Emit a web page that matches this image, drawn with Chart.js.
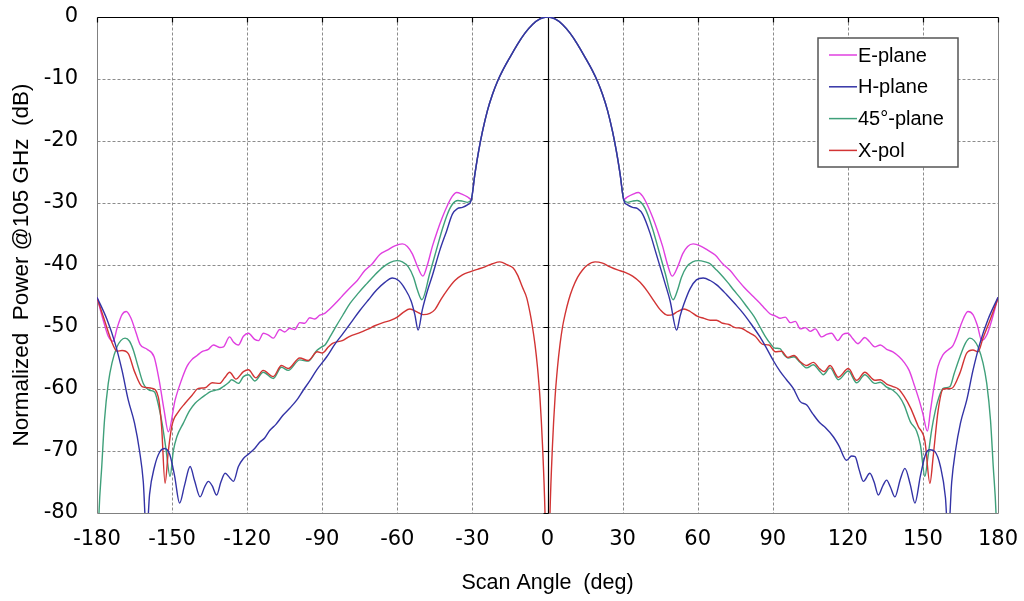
<!DOCTYPE html>
<html>
<head>
<meta charset="utf-8">
<script src="https://cdn.jsdelivr.net/npm/chart.js@4.4.1/dist/chart.umd.min.js"></script>
<style>
  body { margin: 0; background: #fff; }
  #wrap { width: 1024px; height: 601px; }
</style>
</head>
<body>
<div id="wrap"><canvas id="pattern" width="1024" height="601"></canvas></div>
<script>
// tick positions
const angleTicks = [-180, -150, -120, -90, -60, -30, 0, 30, 60, 90, 120, 150, 180];
const dbTicks = [0, -10, -20, -30, -40, -50, -60, -70, -80];

// measured patterns, [scan angle (deg), normalized power (dB)]
const ePlane = [
  [-180,-45.2],[-177.5,-48.9],[-175.5,-51.5],[-173.5,-52.3],[-172,-50.2],[-170,-48],[-168.3,-47.5],[-166.5,-48.5],
  [-164.5,-50.8],[-162.8,-52.8],[-160,-53.6],[-157.2,-54.8],[-155.2,-58.5],[-153.2,-63.4],[-151.5,-66.9],[-148.8,-61.8],
  [-146.2,-58.5],[-144,-56.3],[-142.2,-55.3],[-140,-54.6],[-138.2,-54],[-135.5,-53.6],[-133.5,-52.9],[-131,-53.3],
  [-129.5,-53.2],[-127,-51.6],[-125.5,-52.4],[-123.5,-52.9],[-121.5,-51.5],[-119.5,-51],[-117,-52],[-115.5,-52.2],
  [-113.5,-51],[-111.5,-51.3],[-109.5,-51.8],[-107,-50.4],[-105,-50.8],[-103,-50.2],[-101,-50.4],[-99,-49.3],
  [-97,-49.4],[-95,-48.5],[-93,-48.7],[-91,-48.1],[-89,-47.8],[-87,-47.1],[-85,-46.3],[-82,-45],[-79,-43.7],
  [-76,-42.5],[-73,-40.9],[-70,-39.8],[-67,-38.3],[-64,-37.6],[-61,-36.9],[-58,-36.6],[-56,-37],[-54,-38.2],
  [-52,-40.2],[-49.8,-41.8],[-48,-40],[-46,-37],[-44,-34.5],[-42,-32.3],[-40,-30.4],[-38,-28.9],[-36.3,-28.3],
  [-34,-28.6],[-32,-29],[-30.5,-29.4],[-29,-25.3],[-27.5,-21.6],[-26,-18.5],[-24,-15.1],[-22,-12.5],[-20,-10.4],
  [-18,-8.7],[-15,-6.5],[-12,-4.4],[-9,-2.6],[-6,-1.2],[-3,-0.3],[0,0],
  [3,-0.3],[6,-1.2],[9,-2.6],[12,-4.4],[15,-6.5],[18,-8.7],[20,-10.4],[22,-12.5],[24,-15.1],[26,-18.5],[27.5,-21.6],
  [29,-25.3],[30.5,-29.4],[32,-29],[34,-28.6],[36.3,-28.3],[38,-28.9],[40,-30.4],[42,-32.3],[44,-34.5],[46,-37],
  [48,-40],[49.8,-41.8],[52,-40.3],[54,-38.2],[56,-37],[58.2,-36.6],[61,-36.9],[64,-37.6],[67,-38.4],[70,-39.8],
  [73,-40.9],[76,-42.4],[79,-43.8],[82,-45],[85,-46.2],[87,-47.1],[89,-47.9],[91,-48.2],[93,-48.6],[95,-48.4],
  [97,-49.3],[99,-49.1],[101,-50.3],[103,-50.1],[105,-50.7],[107,-50.3],[109.5,-51.6],[111.5,-51.2],[113.5,-51],
  [116,-52.2],[118,-51.2],[120,-51],[122,-51.9],[124,-52.7],[126.8,-51.7],[128.5,-52.3],[130.8,-53.2],[133,-52.9],
  [135.5,-53.6],[138,-54],[140.5,-54.8],[142.5,-55.7],[144.5,-57],[146.5,-59.3],[148.5,-61.8],[150,-64],[151.8,-66.8],
  [153,-63.5],[154.5,-59.5],[156,-56.4],[158,-54.5],[160,-53.7],[162,-53],[163.5,-51.6],[165.5,-49.3],[168,-47.5],
  [170,-48],[171.8,-49.8],[173.5,-52.2],[175.5,-51.3],[177.5,-48.9],[180,-45.2]
];

const hPlane = [
  [-180,-45.2],[-176,-48.8],[-172.8,-52.6],[-170,-57],[-167.5,-61.8],[-165,-65.5],[-163,-70],[-161.5,-75],
  [-160.2,-84],[-159,-77],[-157,-72.5],[-155,-70.2],[-153,-69.6],[-151,-70.5],[-149,-74],[-147,-78.4],[-145,-75.5],
  [-142.8,-72.5],[-141,-74.8],[-138.8,-77.4],[-137,-75.8],[-135.5,-74.9],[-134,-75.6],[-132.2,-77.1],[-130.5,-75],
  [-128.8,-73.6],[-127,-74.3],[-125.5,-74.9],[-123.5,-72.5],[-121.5,-71.2],[-119.5,-70.5],[-117,-69.6],[-115,-68.6],
  [-113,-67.9],[-111,-66.7],[-108.5,-65.7],[-105.6,-64.2],[-103,-63.1],[-100.2,-61.8],[-97.6,-60.2],[-95,-58.7],
  [-92.2,-56.9],[-88.2,-54.8],[-85,-52.8],[-81.6,-51],[-78,-49],[-74.9,-47.3],[-71.5,-45.6],[-68.2,-44],[-65,-42.8],
  [-62,-42.1],[-59.5,-42.5],[-57,-43.8],[-54.5,-45.8],[-53,-48],[-51.7,-50.5],[-50,-47.2],[-48,-44.2],[-46,-41.7],
  [-43,-37.6],[-40.3,-34.5],[-38,-31.8],[-36,-30.9],[-34,-30.7],[-32,-30.3],[-30.5,-29.6],[-29,-25.3],[-27.5,-21.6],
  [-26,-18.5],[-24,-15.1],[-22,-12.5],[-20,-10.4],[-18,-8.7],[-15,-6.5],[-12,-4.4],[-9,-2.6],[-6,-1.2],[-3,-0.3],[0,0],
  [3,-0.3],[6,-1.2],[9,-2.6],[12,-4.4],[15,-6.5],[18,-8.7],[20,-10.4],[22,-12.5],[24,-15.1],[26,-18.5],[27.5,-21.6],
  [29,-25.3],[30.5,-29.6],[32,-30.3],[34,-30.7],[36,-30.9],[38,-31.8],[41,-34.9],[43,-37.6],[45,-40.3],[47,-43],
  [49,-45.8],[51.6,-50.5],[53,-48.2],[54.5,-46.3],[57,-43.8],[59.5,-42.4],[62.2,-42.1],[65,-42.5],[67.6,-43.2],
  [71.6,-44.8],[75,-46.3],[78.2,-47.8],[81.5,-49.6],[84.9,-51.6],[87.5,-53.4],[90.2,-55.4],[93,-57.2],[95.5,-58.5],
  [98.2,-59.9],[100.9,-62],[103.6,-62.6],[106,-64],[108.9,-65.5],[111,-66.2],[114.2,-67.7],[116.5,-69.2],[119.5,-71.5],
  [121.5,-70.8],[122.9,-70.9],[124.5,-73],[126.2,-74.9],[128.8,-73.6],[130.5,-75],[132.2,-77.1],[134,-75.6],
  [135.5,-74.7],[137,-75.8],[138.8,-77.4],[141,-74.5],[142.8,-72.8],[145,-75.5],[146.8,-78.4],[149,-74],[151,-70.6],
  [152.8,-69.8],[154.8,-70.1],[157,-72.5],[159,-77.5],[160.1,-84],[161.5,-75],[163,-70],[165,-65.5],[167.5,-61.8],
  [170,-57],[172.8,-52.6],[176,-48.8],[180,-45.2]
];

const diagPlane = [
  [-180,-92],[-179.2,-80],[-178.1,-72.5],[-177,-65],[-175.5,-59.1],[-174,-55.8],[-172,-53.2],[-170.5,-52.2],
  [-168.8,-51.8],[-167,-52.3],[-165.5,-53.7],[-163.5,-56.5],[-161.5,-59.1],[-159,-60.2],[-157,-60.5],[-155.5,-62.5],
  [-154,-65.5],[-152.5,-69.5],[-150.8,-74.1],[-149.5,-70],[-148.1,-67.7],[-145.5,-65.5],[-143,-63.5],[-140.8,-62.3],
  [-138.5,-61.5],[-136.8,-61],[-134.5,-60.4],[-132.8,-60.2],[-131,-60],[-129.5,-59.6],[-127.5,-59],[-126.2,-58.5],
  [-123.5,-59.1],[-121.5,-58],[-119.5,-57.7],[-116.9,-58.7],[-113.6,-57.3],[-109.6,-58.3],[-106.3,-56.5],[-103.6,-57],
  [-99,-55.3],[-95.6,-55.5],[-92.2,-53.8],[-90.2,-53.2],[-88.9,-52.9],[-86.5,-51.3],[-84.2,-49.7],[-81.5,-47.9],
  [-78.9,-46.2],[-75.5,-44.5],[-72.2,-43],[-69,-41.6],[-65.6,-40.3],[-63,-39.6],[-60.2,-39.3],[-58,-39.5],[-55.6,-40.3],
  [-53.5,-42],[-52,-44],[-50.2,-45.6],[-47,-41.3],[-44,-37],[-42,-34.2],[-40,-31.8],[-38,-30.2],[-35.8,-29.6],
  [-34,-29.7],[-32,-29.9],[-30.5,-29.5],[-29,-25.3],[-27.5,-21.6],[-26,-18.5],[-24,-15.1],[-22,-12.5],[-20,-10.4],
  [-18,-8.7],[-15,-6.5],[-12,-4.4],[-9,-2.6],[-6,-1.2],[-3,-0.3],[0,0],
  [3,-0.3],[6,-1.2],[9,-2.6],[12,-4.4],[15,-6.5],[18,-8.7],[20,-10.4],[22,-12.5],[24,-15.1],[26,-18.5],[27.5,-21.6],
  [29,-25.3],[30.5,-29.5],[32,-29.9],[34,-29.7],[35.8,-29.6],[38,-30.2],[40,-31.8],[42,-34.2],[44,-37],[47,-41.3],
  [50.2,-45.6],[52,-44],[53.5,-42],[55.6,-40.3],[58,-39.5],[60.3,-39.3],[63,-39.5],[65,-39.8],[67,-40.6],[69,-41.4],
  [72,-42.8],[74.3,-44],[77,-45.3],[79.6,-46.7],[82.5,-48.3],[84.9,-50],[87,-51.5],[88.9,-52.6],[90.8,-53.4],
  [92.9,-53.5],[94.5,-54.5],[96.2,-55],[98.5,-54.8],[100.9,-55.7],[103.6,-56.6],[106.2,-56.1],[108.5,-57],
  [110.2,-57.7],[112.9,-56.6],[116.2,-58.5],[120.2,-57.1],[123.5,-59],[126.8,-57.7],[130.8,-59.1],[133,-58.9],
  [135.5,-59.7],[138,-60.2],[140.5,-61.2],[142.5,-62.6],[145,-65.3],[147.5,-66.8],[149,-69],[150.8,-74.1],[152,-71],
  [153.5,-66.6],[155,-63.4],[156.5,-61.2],[158.1,-59.9],[160.8,-59.6],[162.5,-57.5],[164.8,-54.8],[167,-52.6],
  [168.8,-51.8],[170.5,-52.2],[172,-53.2],[174,-55.8],[175.5,-59.1],[177,-65],[178.1,-72.5],[179.2,-80],[180,-92]
];

const crossPol = [
  [-180,-45.3],[-177,-48.9],[-174.2,-52.3],[-172,-53.9],[-170,-53.8],[-167.5,-54.3],[-165,-57.2],[-162,-59.6],
  [-158,-59.9],[-155.5,-61.3],[-154.2,-66],[-152.8,-75.2],[-151.5,-70],[-150,-65.8],[-147.5,-63.7],[-144.8,-62.3],
  [-142,-61],[-139.5,-59.9],[-136.8,-59.8],[-134,-59],[-131,-59.1],[-129,-58.2],[-127,-57.3],[-124.5,-58.4],
  [-121.5,-57.2],[-119.5,-56.9],[-116.5,-58.2],[-113.6,-57],[-109.6,-58],[-106.3,-56.2],[-103.6,-56.7],[-99,-55],
  [-95.6,-55.4],[-92,-54],[-90,-54.2],[-87.5,-53.2],[-85.7,-52.6],[-82,-52.2],[-79,-51.5],[-75.5,-51],[-72,-50.4],
  [-69,-49.8],[-65.7,-49.3],[-62.5,-48.9],[-60,-48.4],[-57.5,-47.6],[-55,-47.1],[-52,-47.6],[-49.7,-48],[-47,-47.8],
  [-45,-47.2],[-42.5,-45.5],[-40,-44],[-37,-42.5],[-34,-41.6],[-31,-41.1],[-28,-40.7],[-25,-40.3],[-22,-39.8],
  [-19,-39.5],[-16,-40],[-13.7,-40.5],[-12,-41.6],[-10,-43.6],[-8.3,-45.3],[-7,-47.7],[-6,-50],[-5,-52.8],[-4,-56.5],
  [-3,-61.5],[-2,-69],[-1,-80],[0,-100],
  [1,-80],[2,-69],[3,-61.5],[4,-56.5],[5,-52.8],[6,-50],[7,-48],[8.5,-45.6],[10,-43.8],[12,-42],[14,-40.8],[16,-40],
  [19,-39.5],[22,-39.7],[25,-40.3],[28,-40.8],[31,-41.2],[34,-41.8],[37,-42.8],[40,-44.3],[42.5,-45.8],[45,-47.2],
  [48,-48.1],[50,-48],[52,-47.5],[54.5,-47.1],[57,-47.5],[60,-48.3],[62.5,-48.6],[65,-48.9],[67.5,-48.9],[70,-49.4],
  [72.5,-49.6],[75,-50.1],[77.5,-50.2],[80,-50.8],[83,-51.5],[86,-52.8],[88.5,-52.9],[91,-54],[93.5,-53.9],[96,-54.9],
  [98.5,-54.6],[101,-55.6],[103.6,-56.2],[106.2,-55.7],[108.9,-56.8],[110.5,-57.2],[112.9,-56.2],[116.2,-58.1],
  [120.2,-56.7],[123.5,-58.6],[126.8,-57.3],[130.8,-58.6],[133,-58.5],[135.5,-59.2],[138,-59.6],[140.2,-60],
  [142.5,-61.2],[145,-63],[148.1,-66],[150.8,-68.4],[152.8,-75.2],[154.1,-70.9],[156.1,-63.4],[158.1,-60],
  [161.5,-59.9],[164.8,-57.4],[167.5,-54.2],[170,-53.7],[172,-54],[174,-51.8],[176.8,-48.9],[180,-45.4]
];

const FONT = "'Liberation Sans', Arial, sans-serif";
const TICK_FONT = "'DejaVu Sans', sans-serif";

/* dashed grid, gray frame, black axes crossing at 0 dB / 0 deg */
const framePlugin = {
  id: 'frame',
  beforeDatasetsDraw(chart) {
    const { ctx, scales: { x, y } } = chart;
    const px = v => Math.round(x.getPixelForValue(v)) + 0.5;
    const py = v => Math.round(y.getPixelForValue(v)) + 0.5;
    ctx.save();
    ctx.lineWidth = 1;
    ctx.strokeStyle = '#8c8c8c';
    ctx.setLineDash([3, 2]);
    ctx.beginPath();
    angleTicks.filter(v => v !== 0 && Math.abs(v) !== 180).forEach(v => {
      ctx.moveTo(px(v), py(0)); ctx.lineTo(px(v), py(-80));
    });
    dbTicks.filter(v => v !== 0 && v !== -80).forEach(v => {
      ctx.moveTo(px(-180), py(v)); ctx.lineTo(px(180), py(v));
    });
    ctx.stroke();
    ctx.setLineDash([]);

    ctx.strokeStyle = '#808080';
    ctx.beginPath();
    ctx.moveTo(px(-180), py(0));
    ctx.lineTo(px(-180), py(-80));
    ctx.lineTo(px(180), py(-80));
    ctx.lineTo(px(180), py(0));
    ctx.stroke();

    ctx.strokeStyle = '#000';
    ctx.lineWidth = 1.2;
    ctx.beginPath();
    ctx.moveTo(px(-180), py(0)); ctx.lineTo(px(180), py(0));
    ctx.moveTo(px(0), py(0)); ctx.lineTo(px(0), py(-80));
    angleTicks.forEach(v => { ctx.moveTo(px(v), py(0)); ctx.lineTo(px(v), py(0) + 5); });
    dbTicks.forEach(v => { ctx.moveTo(px(0) - 5, py(v)); ctx.lineTo(px(0), py(v)); });
    ctx.stroke();
    ctx.restore();
  }
};

/* boxed legend in the upper right */
const legendPlugin = {
  id: 'boxLegend',
  afterDatasetsDraw(chart) {
    const { ctx } = chart;
    const left = 818, top = 38, w = 140, h = 129;
    ctx.save();
    ctx.fillStyle = '#fff';
    ctx.fillRect(left, top, w, h);
    ctx.strokeStyle = '#555';
    ctx.lineWidth = 1.5;
    ctx.strokeRect(left, top, w, h);
    ctx.font = '20px ' + FONT;
    ctx.textBaseline = 'middle';
    ctx.fillStyle = '#000';
    chart.data.datasets.forEach((ds, i) => {
      const rowY = top + 17 + i * 31.8;
      ctx.strokeStyle = ds.borderColor;
      ctx.lineWidth = 1.5;
      ctx.beginPath();
      ctx.moveTo(left + 11, rowY);
      ctx.lineTo(left + 39, rowY);
      ctx.stroke();
      ctx.fillText(ds.label, left + 40, rowY + 1);
    });
    ctx.restore();
  }
};

const line = (label, data, color, order) => ({
  label, data, order,
  borderColor: color,
  borderWidth: 1.4,
  pointRadius: 0,
  cubicInterpolationMode: 'monotone',
  fill: false
});

new Chart(document.getElementById('pattern'), {
  type: 'line',
  data: {
    datasets: [
      line('E-plane', ePlane, '#e040e0', 3),
      line('H-plane', hPlane, '#3333a6', 0),
      line('45°-plane', diagPlane, '#3fa07a', 2),
      line('X-pol', crossPol, '#d23434', 1)
    ]
  },
  options: {
    responsive: false,
    animation: false,
    devicePixelRatio: 1,
    layout: { padding: { top: 17, right: 26, left: 0, bottom: 0 } },
    plugins: { legend: { display: false }, tooltip: { enabled: false } },
    scales: {
      x: {
        type: 'linear', min: -180, max: 180,
        afterBuildTicks: s => { s.ticks = angleTicks.map(v => ({ value: v })); },
        afterFit: s => { s.height = 88; s.paddingLeft = 0; s.paddingRight = 0; },
        grid: { display: false, drawTicks: false },
        border: { display: false },
        ticks: { padding: 14, color: '#000', font: { family: TICK_FONT, size: 21 }, maxRotation: 0, autoSkip: false, callback: v => String(v) },
        title: { display: true, text: 'Scan Angle  (deg)', color: '#000', font: { family: FONT, size: 21.5 }, padding: { top: 0, bottom: 5 } }
      },
      y: {
        type: 'linear', min: -80, max: 0,
        afterBuildTicks: s => { s.ticks = dbTicks.map(v => ({ value: v })); },
        afterFit: s => { s.width = 97; s.paddingTop = 0; s.paddingBottom = 0; },
        grid: { display: false, drawTicks: false },
        border: { display: false },
        ticks: { padding: 19, color: '#000', font: { family: TICK_FONT, size: 21 }, callback: v => String(v) },
        title: { display: true, text: 'Normalized  Power @105 GHz  (dB)', color: '#000', font: { family: FONT, size: 22.5 }, padding: { top: 8, bottom: 0 } }
      }
    }
  },
  plugins: [framePlugin, legendPlugin]
});
</script>
</body>
</html>
